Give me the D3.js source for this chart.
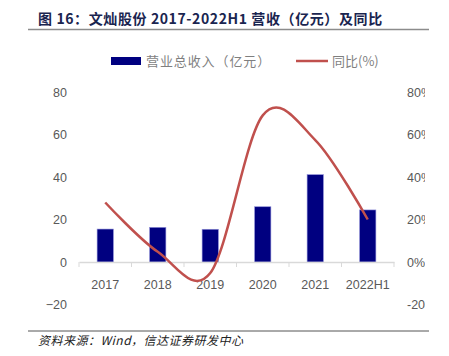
<!DOCTYPE html>
<html><head><meta charset="utf-8">
<script src="https://cdn.jsdelivr.net/npm/d3@7"></script>
<style>body{margin:0;background:#fff}svg{display:block}</style>
</head><body>
<script>
const categories = ["2017","2018","2019","2020","2021","2022H1"];
const revenue = [15.5, 16.3, 15.4, 26.0, 41.1, 24.5];
const yoy = [28, 4.8, -5.2, 69, 57.4, 20];
const leftTicks = [-20, 0, 20, 40, 60, 80];
const rightTicks = [-20, 0, 20, 40, 60, 80];

const W = 449, H = 356;
const svg = d3.select("body").append("svg").attr("width", W).attr("height", H);
const font = "'Liberation Sans', Arial, sans-serif";
const cjk = "'Noto Sans CJK SC', sans-serif";

// title
svg.append("text").attr("x", 38).attr("y", 24).text("图 16：文灿股份 2017-2022H1 营收（亿元）及同比")
  .attr("font-family", cjk).attr("font-weight", "bold").attr("font-size", 14).attr("letter-spacing", 0.6)
  .attr("fill", "#1a2550");
svg.append("line").attr("x1", 28).attr("x2", 429).attr("y1", 29.5).attr("y2", 29.5)
  .attr("stroke", "#8c8c8c").attr("stroke-width", 1.5);

// footer
svg.append("line").attr("x1", 28).attr("x2", 429).attr("y1", 331).attr("y2", 331)
  .attr("stroke", "#555").attr("stroke-width", 1);
svg.append("text").attr("x", 38).attr("y", 345).text("资料来源：Wind，信达证券研发中心")
  .attr("font-family", cjk).attr("font-style", "italic").attr("font-size", 12).attr("letter-spacing", 0.5)
  .attr("fill", "#222");

const x = d3.scaleBand().domain(categories).range([79, 394]).paddingInner(0.69).paddingOuter(0.345);
const xb = d3.scaleBand().domain(categories).range([79, 394]);
const yL = d3.scaleLinear().domain([-20, 80]).range([304.5, 92]);
const yR = d3.scaleLinear().domain([-20, 80]).range([304.5, 92]);

svg.append("clipPath").attr("id", "c").append("rect").attr("x", 0).attr("y", 0).attr("width", 425).attr("height", H);

// left axis labels
const la = svg.append("g").attr("transform", "translate(67,0)")
  .call(d3.axisLeft(yL).tickValues(leftTicks).tickSize(0).tickPadding(0));
la.select(".domain").remove();
la.selectAll("text").attr("font-family", font).attr("font-size", 12.5).attr("fill", "#595959");

// right axis labels (clipped at the chart's right edge)
const rwrap = svg.append("g").attr("clip-path", "url(#c)");
const ra = rwrap.append("g").attr("transform", "translate(407,0)")
  .call(d3.axisRight(yR).tickValues(rightTicks).tickFormat(d => d + "%").tickSize(0).tickPadding(0));
ra.select(".domain").remove();
ra.selectAll("text").attr("font-family", font).attr("font-size", 12.5).attr("fill", "#595959");

// bars
svg.append("g").selectAll("rect.bar").data(categories).join("rect").attr("class", "bar")
  .attr("x", d => x(d)).attr("width", x.bandwidth())
  .attr("y", (d, i) => yL(revenue[i])).attr("height", (d, i) => yL(0) - yL(revenue[i]))
  .attr("fill", "#000080").attr("stroke", "#8e8ed8").attr("stroke-width", 0.6);

// x axis
const xa = svg.append("g").attr("transform", `translate(0,${yL(0)})`)
  .call(d3.axisBottom(xb).tickSize(0).tickPadding(18));
xa.select(".domain").attr("stroke", "#d9d9d9").attr("stroke-width", 1.5);
xa.selectAll("text").attr("font-family", font).attr("font-size", 12.5).attr("fill", "#595959");
const bounds = categories.map(c => xb(c)).concat([xb(categories[categories.length-1]) + xb.bandwidth()]);
xa.selectAll("line.tk").data(bounds).join("line").attr("class", "tk")
  .attr("x1", d => d).attr("x2", d => d).attr("y1", 0).attr("y2", 5)
  .attr("stroke", "#d9d9d9").attr("stroke-width", 1);

// line
const line = d3.line().x((d, i) => xb(categories[i]) + xb.bandwidth() / 2).y(d => yR(d))
  .curve(d3.curveCatmullRom.alpha(0));
svg.append("path").datum(yoy).attr("d", line).attr("fill", "none")
  .attr("stroke", "#c0504d").attr("stroke-width", 2.5);

// legend
svg.append("rect").attr("x", 111).attr("y", 57).attr("width", 30).attr("height", 8).attr("fill", "#000080");
svg.append("text").attr("x", 146).attr("y", 66).text("营业总收入（亿元）")
  .attr("font-family", cjk).attr("font-size", 13).attr("letter-spacing", 0.9).attr("fill", "#7f7f7f");
svg.append("line").attr("x1", 296).attr("x2", 328).attr("y1", 61).attr("y2", 61)
  .attr("stroke", "#c0504d").attr("stroke-width", 2.5);
svg.append("text").attr("x", 332).attr("y", 66).text("同比(%)")
  .attr("font-family", cjk).attr("font-size", 13).attr("fill", "#7f7f7f");
</script>
</body></html>
